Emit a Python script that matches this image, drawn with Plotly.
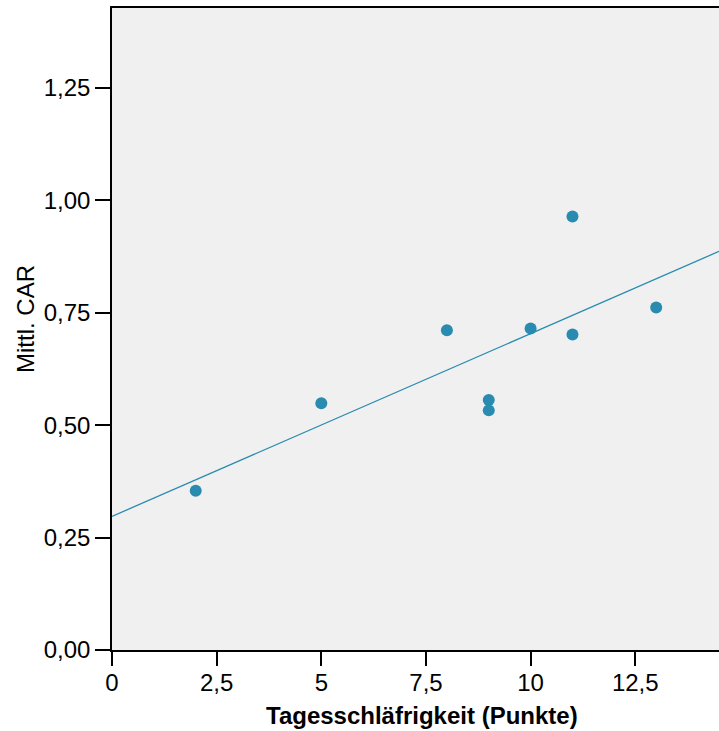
import numpy as np
import plotly.graph_objects as go

# Data
sleepiness = [2, 5, 8, 9, 9, 10, 11, 11, 13]
mean_car = [0.354, 0.549, 0.711, 0.556, 0.533, 0.715, 0.964, 0.702, 0.762]

x_tick_vals = [0, 2.5, 5, 7.5, 10, 12.5]
x_tick_text = ["0", "2,5", "5", "7,5", "10", "12,5"]
y_tick_vals = [0, 0.25, 0.5, 0.75, 1.0, 1.25]
y_tick_text = ["0,00", "0,25", "0,50", "0,75", "1,00", "1,25"]

x_title = "Tagesschläfrigkeit (Punkte)"
y_title = "Mittl. CAR"

x_range = [0, 14.5]
y_range = [0, 1.428]

color = "#2A8BB0"

slope, intercept = np.polyfit(sleepiness, mean_car, 1)
fit_x = np.array(x_range)
fit_y = intercept + slope * fit_x

fig = go.Figure()
fig.add_trace(go.Scatter(x=fit_x, y=fit_y, mode="lines",
                         line=dict(color=color, width=1.3),
                         hoverinfo="skip", showlegend=False))
fig.add_trace(go.Scatter(x=sleepiness, y=mean_car, mode="markers",
                         marker=dict(color=color, size=12, line=dict(width=0)),
                         showlegend=False))

font_family = "Liberation Sans, Arial, sans-serif"
fig.update_layout(
    width=719, height=731,
    margin=dict(l=112, r=0, t=8, b=81),
    paper_bgcolor="white",
    plot_bgcolor="#F0F0F0",
    font=dict(family=font_family, size=22, color="black"),
    xaxis=dict(range=x_range, tickvals=x_tick_vals, ticktext=x_tick_text,
               showgrid=False, zeroline=False,
               showline=True, linecolor="black", linewidth=1.5, mirror=True,
               ticks="outside", ticklen=14, tickwidth=1.5, tickcolor="black",
               tickfont=dict(size=24), ticklabelstandoff=-4),
    yaxis=dict(range=y_range, tickvals=y_tick_vals, ticktext=y_tick_text,
               showgrid=False, zeroline=False,
               showline=True, linecolor="black", linewidth=1.5, mirror=False,
               ticks="outside", ticklen=15, tickwidth=1.5, tickcolor="black",
               tickfont=dict(size=24), ticklabelstandoff=0),
    annotations=[
        dict(text="<b>" + x_title + "</b>", xref="paper", yref="paper",
             x=(422 - 112) / 607, y=(650 - 715) / 642,
             xanchor="center", yanchor="middle", showarrow=False,
             font=dict(size=24)),
        dict(text=y_title, xref="paper", yref="paper",
             x=(25 - 112) / 607, y=(650 - 319) / 642, textangle=-90,
             xanchor="center", yanchor="middle", showarrow=False,
             font=dict(size=24)),
    ],
)

post = ("document.body.style.margin='0';"
        "document.body.style.overflow='hidden';"
        "Plotly.Plots.resize(document.getElementById('{plot_id}'));")
fig.write_html("out.html", post_script=post, config={"displayModeBar": False})
